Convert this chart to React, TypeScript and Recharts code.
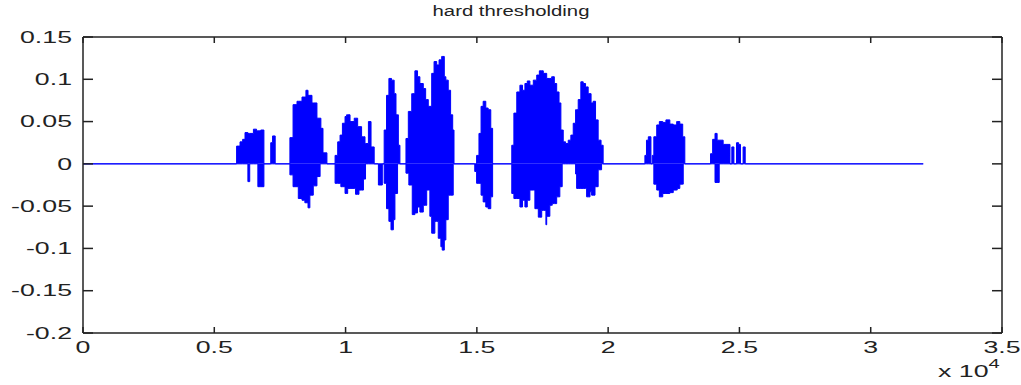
import React from 'react';
import { ComposedChart, Area, Line, XAxis, YAxis } from 'recharts';

// envelope of the thresholded speech signal (sample index -> max / min)
const sampleIndex = [
  0,
  5850, 5980, 6080, 6170, 6280, 6350, 6490, 6610, 6660, 6770, 6890, 7150, 7220, 7320,
  7880, 8000, 8150, 8200, 8340, 8450, 8490, 8570, 8640, 8720, 8770, 8910, 9030, 9060, 9140, 9290,
  9600, 9700, 9790, 9820, 9880, 9980, 10040, 10080, 10170, 10330, 10380, 10460, 10510, 10610, 10680, 10740, 10760, 10870, 10970, 11090, 11250, 11400,
  11470, 11560, 11650, 11730, 11750, 11820, 11850, 11880, 11920, 11980, 12010, 12070,
  12300, 12390, 12410, 12520, 12540, 12640, 12740, 12830, 12960, 13050, 13090, 13150, 13210, 13280, 13370, 13400, 13470, 13530, 13560, 13630, 13660, 13680, 13760, 13820, 13910, 14000, 14080, 14100, 14130,
  14920, 14990, 15080, 15160, 15240, 15340, 15430, 15530, 15600,
  16330, 16410, 16520, 16640, 16740, 16830, 16920, 17020, 17150, 17210, 17280, 17340, 17380, 17470, 17530, 17630, 17660, 17780, 17850, 17870, 17950, 18040, 18130, 18160, 18200, 18250, 18290, 18380, 18480, 18580, 18670, 18760, 18800, 18860, 18960, 19050, 19140, 19180, 19240, 19310, 19350, 19370, 19430, 19500, 19520, 19620, 19730, 19750, 19810,
  21400, 21460, 21530, 21630, 21680,
  21740, 21850, 21950, 22080, 22200, 22350, 22480, 22610, 22630, 22730, 22840, 22860, 22920,
  23900, 23980, 24070, 24150, 24230, 24380, 24640, 24710, 24790, 24890, 24970, 25040, 25140, 25220,
  32000,
];

const upperEnv = [
  0,
  0.021, 0.026, 0.029, 0.037, 0.036, 0.036, 0.041, 0.039, 0.039, 0.04, 0, 0.025, 0.033, 0,
  0.031, 0.07, 0.074, 0.074, 0.079, 0.079, 0.087, 0.081, 0.081, 0.072, 0.072, 0.054, 0.054, 0.042, 0.013, 0,
  0.01, 0.026, 0.034, 0.034, 0.048, 0.056, 0.058, 0.058, 0.05, 0.054, 0.054, 0.044, 0.044, 0.032, 0.032, 0.024, 0.024, 0.05, 0.02, 0, 0, 0,
  0.04, 0.081, 0.101, 0.101, 0.099, 0.099, 0.083, 0.083, 0.058, 0.058, 0.022, 0,
  0.03, 0.062, 0.062, 0.083, 0.083, 0.11, 0.103, 0.095, 0.089, 0.076, 0.076, 0.068, 0.068, 0.107, 0.121, 0.121, 0.117, 0.117, 0.123, 0.123, 0.127, 0.127, 0.103, 0.099, 0.087, 0.058, 0.04, 0.04, 0,
  0, 0.01, 0.036, 0.068, 0.074, 0.066, 0.064, 0.042, 0,
  0.022, 0.06, 0.085, 0.093, 0.087, 0.095, 0.098, 0.093, 0.099, 0.099, 0.105, 0.105, 0.11, 0.11, 0.107, 0.107, 0.101, 0.101, 0.103, 0.103, 0.095, 0.085, 0.072, 0.072, 0.04, 0.04, 0.026, 0.024, 0.028, 0.034, 0.048, 0.064, 0.064, 0.076, 0.097, 0.095, 0.091, 0.091, 0.083, 0.083, 0.072, 0.072, 0.074, 0.074, 0.052, 0.028, 0.022, 0.022, 0,
  0.01, 0.028, 0.032, 0, 0.01,
  0.032, 0.046, 0.05, 0.049, 0.052, 0.047, 0.046, 0.05, 0.05, 0.047, 0.032, 0.032, 0,
  0.012, 0.029, 0.036, 0.028, 0.028, 0.023, 0, 0.02, 0, 0.025, 0.023, 0, 0.02, 0,
  0,
];

const lowerEnv = [
  0,
  0, 0, 0, 0, -0.021, 0, 0, 0, -0.027, -0.027, 0, 0, 0, 0,
  -0.013, -0.027, -0.027, -0.041, -0.043, -0.046, -0.046, -0.052, -0.037, -0.037, -0.026, -0.015, 0, 0, 0, 0,
  -0.023, -0.023, -0.023, -0.027, -0.027, -0.035, -0.035, -0.029, -0.029, -0.029, -0.036, -0.036, -0.031, -0.031, -0.018, -0.018, 0, 0, 0, 0, -0.025, 0,
  -0.023, -0.053, -0.068, -0.078, -0.078, -0.066, -0.066, -0.035, -0.035, 0, 0, 0,
  -0.011, -0.011, -0.025, -0.025, -0.06, -0.058, -0.051, -0.057, -0.049, -0.049, -0.031, -0.031, -0.062, -0.082, -0.082, -0.068, -0.068, -0.088, -0.088, -0.098, -0.098, -0.102, -0.09, -0.066, -0.037, -0.037, -0.037, 0, 0,
  -0.009, -0.023, -0.023, -0.037, -0.045, -0.051, -0.053, -0.039, 0,
  -0.035, -0.041, -0.041, -0.051, -0.043, -0.051, -0.043, -0.031, -0.031, -0.053, -0.053, -0.063, -0.063, -0.055, -0.055, -0.072, -0.062, -0.049, -0.049, -0.047, -0.047, -0.039, -0.039, -0.027, -0.027, 0, 0, 0, 0, 0, 0, -0.012, -0.029, -0.029, -0.029, -0.029, -0.029, -0.039, -0.039, -0.033, -0.033, -0.037, -0.037, -0.027, -0.027, -0.007, -0.007, 0, 0,
  0, 0, 0, 0, 0,
  -0.024, -0.031, -0.039, -0.035, -0.035, -0.034, -0.031, -0.031, -0.029, -0.024, -0.024, 0, 0,
  0, 0, -0.022, -0.022, 0, 0, 0, 0, 0, 0, 0, 0, 0, 0,
  0,
];

const xTicks = [0, 5000, 10000, 15000, 20000, 25000, 30000, 35000];
const xTickLabels = ['0', '0.5', '1', '1.5', '2', '2.5', '3', '3.5'];
const yTicks = [-0.2, -0.15, -0.1, -0.05, 0, 0.05, 0.1, 0.15];
const yTickLabels = ['-0.2', '-0.15', '-0.1', '-0.05', '0', '0.05', '0.1', '0.15'];

const data = sampleIndex.map((x, i) => ({
  x,
  up: upperEnv[i],
  lo: lowerEnv[i],
}));

const FONT = '"Liberation Sans", Arial, Helvetica, sans-serif';
const AXIS = '#222';
const BLUE = '#0000ff';
const SX = 1.67; // the original figure is stretched horizontally

function BottomTick({ x, y, payload }: any) {
  const label = xTickLabels[xTicks.indexOf(payload.value)];
  return (
    <g>
      <line x1={x} y1={y} x2={x} y2={y - 6} stroke={AXIS} strokeWidth={1.5} />
      <text
        transform={`translate(${x},${y + 14.5}) scale(${SX},1)`}
        textAnchor="middle"
        dy="0.36em"
        fontSize={16}
        fontFamily={FONT}
        fill="#222"
      >
        {label}
      </text>
    </g>
  );
}

function LeftTick({ x, y, payload }: any) {
  const idx = yTicks.findIndex((t) => Math.abs(t - payload.value) < 1e-9);
  return (
    <g>
      <line x1={x} y1={y} x2={x + 10} y2={y} stroke={AXIS} strokeWidth={1.5} />
      <text
        transform={`translate(${x - 11},${y}) scale(${SX},1)`}
        textAnchor="end"
        dy="0.36em"
        fontSize={16}
        fontFamily={FONT}
        fill="#222"
      >
        {yTickLabels[idx]}
      </text>
    </g>
  );
}

function TopTick({ x, y }: any) {
  return <line x1={x} y1={y} x2={x} y2={y + 6} stroke={AXIS} strokeWidth={1.5} />;
}

function RightTick({ x, y }: any) {
  return <line x1={x} y1={y} x2={x - 10} y2={y} stroke={AXIS} strokeWidth={1.5} />;
}

export default function App() {
  return (
    <div style={{ position: 'absolute', left: 0, top: 0, width: 1021, height: 385, background: '#fff' }}>
      <ComposedChart
        width={1021}
        height={385}
        data={data}
        margin={{ top: 36, right: 18, left: 0, bottom: 0 }}
      >
        <XAxis
          xAxisId="bottom"
          dataKey="x"
          type="number"
          domain={[0, 35000]}
          ticks={xTicks}
          height={52}
          tickSize={0}
          tickMargin={0}
          tickLine={false}
          axisLine={{ stroke: AXIS, strokeWidth: 1.5 }}
          tick={<BottomTick />}
          interval={0}
        />
        <XAxis
          xAxisId="top"
          orientation="top"
          dataKey="x"
          type="number"
          domain={[0, 35000]}
          ticks={xTicks}
          height={1}
          tickSize={0}
          tickMargin={0}
          tickLine={false}
          axisLine={{ stroke: AXIS, strokeWidth: 1.5 }}
          tick={<TopTick />}
          interval={0}
        />
        <YAxis
          yAxisId="left"
          type="number"
          domain={[-0.2, 0.15]}
          ticks={yTicks}
          width={83}
          tickSize={0}
          tickMargin={0}
          tickLine={false}
          axisLine={{ stroke: AXIS, strokeWidth: 1.5 }}
          tick={<LeftTick />}
          interval={0}
          allowDataOverflow
        />
        <YAxis
          yAxisId="right"
          orientation="right"
          type="number"
          domain={[-0.2, 0.15]}
          ticks={yTicks}
          width={1}
          tickSize={0}
          tickMargin={0}
          tickLine={false}
          axisLine={{ stroke: AXIS, strokeWidth: 1.5 }}
          tick={<RightTick />}
          interval={0}
          allowDataOverflow
        />
        <Area
          xAxisId="bottom"
          yAxisId="left"
          type="stepAfter"
          dataKey="up"
          baseValue={0}
          stroke={BLUE}
          strokeWidth={1}
          fill={BLUE}
          fillOpacity={1}
          dot={false}
          activeDot={false}
          isAnimationActive={false}
        />
        <Area
          xAxisId="bottom"
          yAxisId="left"
          type="stepAfter"
          dataKey="lo"
          baseValue={0}
          stroke={BLUE}
          strokeWidth={1}
          fill={BLUE}
          fillOpacity={1}
          dot={false}
          activeDot={false}
          isAnimationActive={false}
        />
        <Line
          xAxisId="top"
          yAxisId="right"
          dataKey="up"
          stroke="none"
          dot={false}
          activeDot={false}
          isAnimationActive={false}
        />
      </ComposedChart>
      <div
        style={{
          position: 'absolute',
          left: 511,
          top: 3,
          transform: 'translateX(-50%) scaleX(1.45)',
          fontFamily: FONT,
          fontSize: 14,
          color: '#222',
          whiteSpace: 'nowrap',
        }}
      >
        hard thresholding
      </div>
      <div
        style={{
          position: 'absolute',
          left: 938,
          top: 363,
          transformOrigin: 'left top',
          transform: `scaleX(${SX})`,
          fontFamily: FONT,
          fontSize: 16,
          color: '#222',
          whiteSpace: 'nowrap',
        }}
      >
        x 10<sup style={{ fontSize: 12, verticalAlign: 'top', position: 'relative', top: -6 }}>4</sup>
      </div>
    </div>
  );
}
